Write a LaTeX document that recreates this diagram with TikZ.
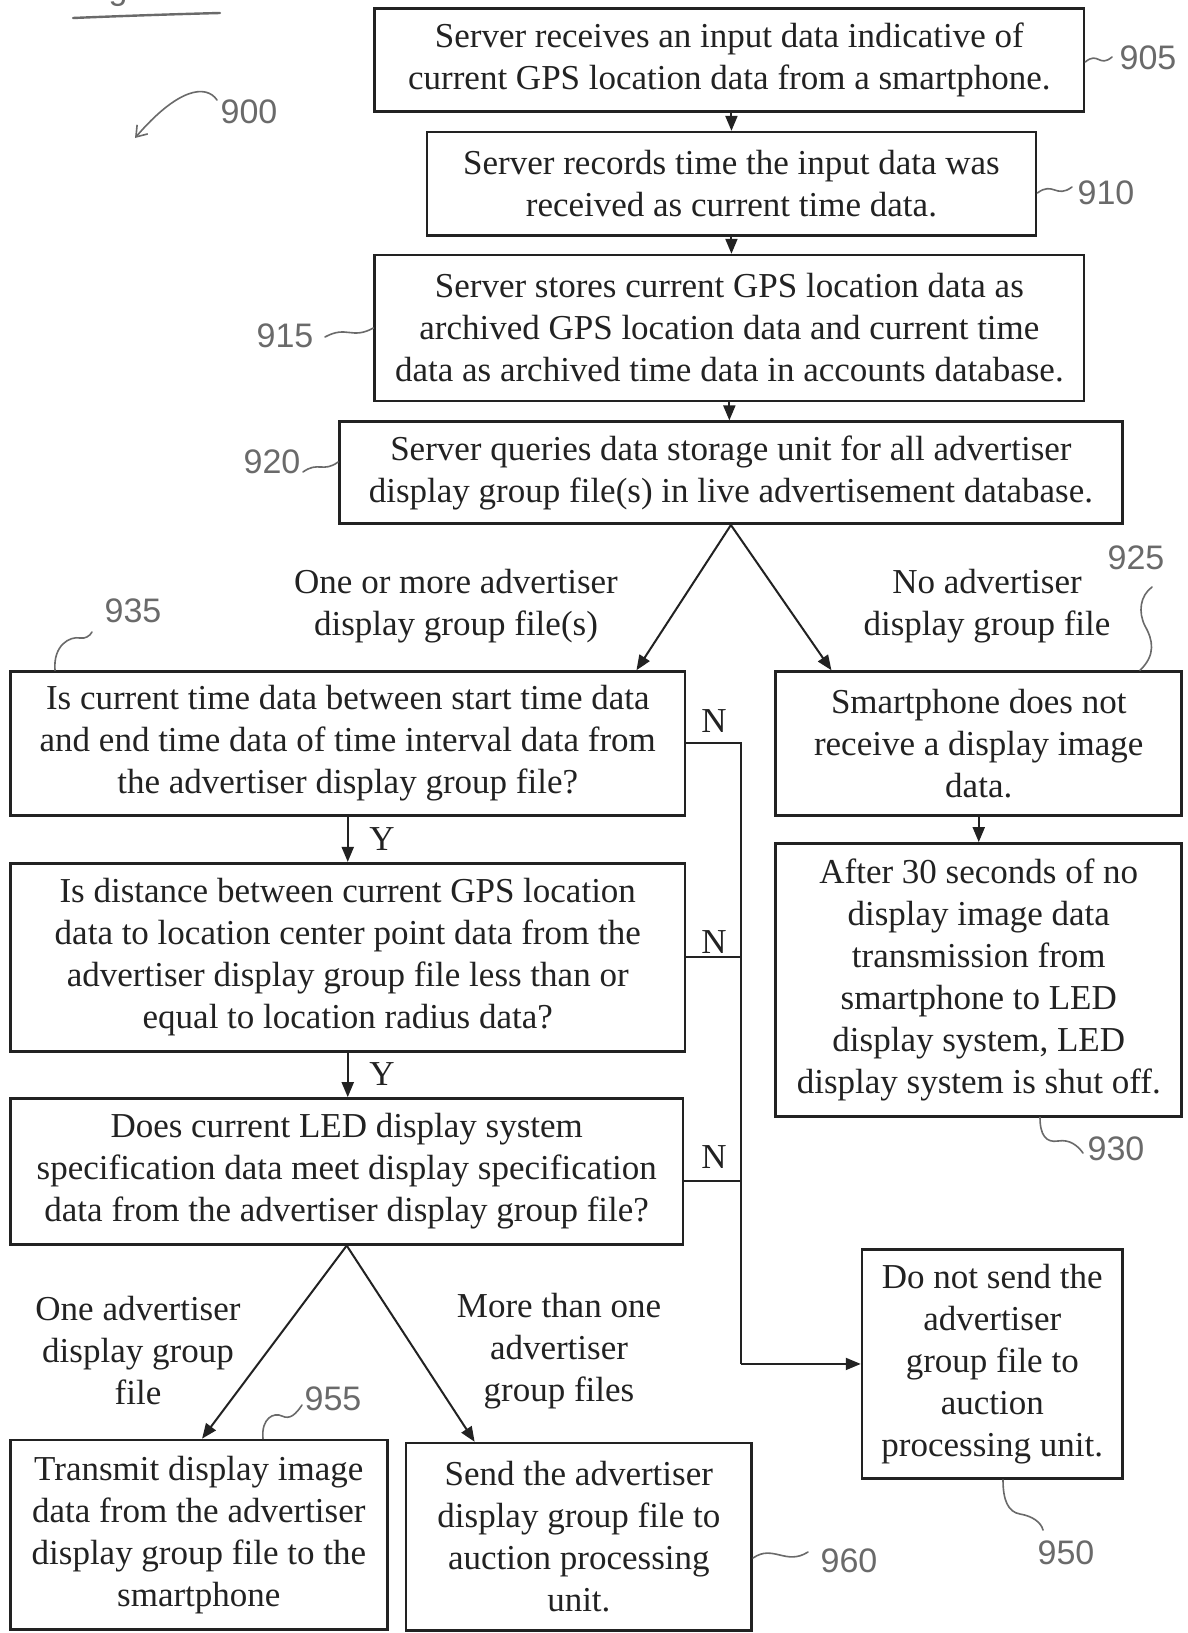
\documentclass[tikz,border=0pt]{standalone}
\usepackage{fontspec}
\setmainfont{Liberation Serif}
\newfontfamily\handfont{Liberation Sans}
\usetikzlibrary{arrows.meta,calc}
\definecolor{ink}{HTML}{222222}
\definecolor{pencil}{HTML}{6A6A6A}
\begin{document}
\begin{tikzpicture}[x=0.5pt,y=-0.5pt,
  box/.style={draw=ink, line width=1.3pt, inner sep=0pt, align=center, text=ink, font=\fontsize{17.5}{21}\selectfont},
  arr/.style={draw=ink, line width=1pt, -{Triangle[length=7.5pt,width=6pt]}},
  conn/.style={draw=ink, line width=1pt},
  lbl/.style={text=ink, align=center, font=\fontsize{17.5}{21}\selectfont, inner sep=0pt},
  refnum/.style={text=pencil, font=\handfont\fontsize{17}{17}\selectfont, inner sep=2pt},
  lead/.style={draw=pencil, line width=0.8pt, line cap=round},
]
\fill[white] (0,0) rectangle (1188,1633);
\useasboundingbox (0,0) rectangle (1188,1633);

% figure title (cut off at top)
\node[refnum, anchor=base west, inner sep=0pt] (fig) at (80,-1) {Figure 9};
\draw[lead, line width=1.2pt] (73,18) .. controls (120,16) and (180,14) .. (220,13);

% boxes
\node[box, minimum width=354.6pt, minimum height=51.6pt] (b905) at (729.35,59.85)
  {Server receives an input data indicative of\\current GPS location data from a smartphone.};
\node[box, minimum width=304.6pt, minimum height=51.6pt] (b910) at (731.45,183.75)
  {Server records time the input data was\\received as current time data.};
\node[box, minimum width=354.6pt, minimum height=72.9pt] (b915) at (729.35,328)
  {Server stores current GPS location data as\\archived GPS location data and current time\\data as archived time data in accounts database.};
\node[box, minimum width=391.5pt, minimum height=51pt] (b920) at (730.9,472.7)
  {Server queries data storage unit for all advertiser\\display group file(s) in live advertisement database.};
\node[box, minimum width=337.4pt, minimum height=71.9pt] (b935) at (347.75,743.45)
  {Is current time data between start time data\\and end time data of time interval data from\\the advertiser display group file?};
\node[box, minimum width=203pt, minimum height=71.9pt] (b925) at (978.75,743.45)
  {Smartphone does not\\receive a display image\\data.};
\node[box, minimum width=203pt, minimum height=136.4pt] (b930) at (978.75,979.8)
  {After 30 seconds of no\\display image data\\transmission from\\smartphone to LED\\display system, LED\\display system is shut off.};
\node[box, minimum width=337.4pt, minimum height=94.2pt] (b940) at (347.75,957.4)
  {Is distance between current GPS location\\data to location center point data from the\\advertiser display group file less than or\\equal to location radius data?};
\node[box, minimum width=336.3pt, minimum height=72.9pt] (b945) at (346.7,1171.35)
  {Does current LED display system\\specification data meet display specification\\data from the advertiser display group file?};
\node[box, minimum width=130.2pt, minimum height=114.6pt] (b950) at (992.25,1363.95)
  {Do not send the\\advertiser\\group file to\\auction\\processing unit.};
\node[box, minimum width=188.5pt, minimum height=94.8pt] (b955) at (198.85,1534.75)
  {Transmit display image\\data from the advertiser\\display group file to the\\smartphone};
\node[box, minimum width=172.9pt, minimum height=93.7pt] (b960) at (578.85,1536.8)
  {Send the advertiser\\display group file to\\auction processing\\unit.};

% edge labels
\node[lbl] (e1) at (456,606) {One or more advertiser\\display group file(s)};
\node[lbl] (e2) at (987,606) {No advertiser\\display group file};
\node[lbl] (e3) at (138,1351) {One advertiser\\display group\\file};
\node[lbl] (e4) at (559,1351) {More than one\\advertiser\\group files};
\node[lbl] (y1) at (382,839) {Y};
\node[lbl] (y2) at (382,1074.5) {Y};
\node[lbl] (n1) at (714,721) {N};
\node[lbl] (n2) at (714,942) {N};
\node[lbl] (n3) at (714,1157) {N};

% connectors
\draw[arr] (b905.south -| b910.north) -- (b910.north);
\draw[arr] (b910.south) -- (b910.south |- b915.north);
\draw[arr] (b915.south) -- (b915.south |- b920.north);
\draw[arr] (b920.south) -- ($(b935.north east)+(-50,0)$);
\draw[arr] (b920.south) -- ($(b925.north west)+(57,0)$);
\draw[arr] (b935.south) -- (b935.south |- b940.north);
\draw[arr] (b940.south) -- (b940.south |- b945.north);
\draw[arr] (b925.south) -- (b930.north);
\coordinate (vx) at (741,0);
\draw[conn] (b935.east) -- (b935.east -| vx) -- (b950.west -| vx);
\draw[arr] (b950.west -| vx) -- (b950.west);
\draw[conn] (b940.east) -- (b940.east -| vx);
\draw[conn] ($(b945.east)+(0,10)$) -- ($(b945.east -| vx)+(0,10)$);
\draw[arr] (b945.south) -- ($(b955.north west)+(193,0)$);
\draw[arr] (b945.south) -- ($(b960.north west)+(70,0)$);

% reference numerals
\node[refnum] (l900) at (249,112) {900};
\node[refnum] (l905) at (1148,58) {905};
\node[refnum] (l910) at (1106,193) {910};
\node[refnum] (l915) at (285,336) {915};
\node[refnum] (l920) at (272,462) {920};
\node[refnum] (l925) at (1136,558) {925};
\node[refnum] (l935) at (133,611) {935};
\node[refnum] (l930) at (1116,1149) {930};
\node[refnum] (l955) at (333,1399) {955};
\node[refnum] (l960) at (849,1561) {960};
\node[refnum] (l950) at (1066,1553) {950};

% leaders
\coordinate (a900) at (135,138);
\draw[lead, -{Straight Barb[length=5pt,width=7pt]}] (217,100) .. controls (206,84) and (178,88) .. (a900);
\draw[lead] (b905.east |- 0,62) .. controls +(13,-11) and +(-13,11) .. (1112,57);
\draw[lead] (b910.east |- 0,193) .. controls +(16,-12) and +(-16,12) .. (1072,187);
\draw[lead] (325,337) .. controls +(22,-12) and +(-22,12) .. (b915.west |- 0,328);
\draw[lead] (303,472) .. controls +(15,-11) and +(-15,11) .. (b920.west |- 0,462);
\draw[lead] (b960.east |- 0,1558) .. controls +(20,-14) and +(-22,14) .. (808,1552);
\draw[lead] (b955.north west -| 263,0) .. controls (261,1418) and (274,1412) .. (282,1416)
  .. controls (290,1420) and (296,1414) .. (302,1405);
\draw[lead] (b935.north west -| 55,0) .. controls (53,645) and (70,636) .. (80,638)
  .. controls (85,639) and (90,636) .. (92,632);
\draw[lead] (1152,587) .. controls (1140,596) and (1138,612) .. (1145,626)
  .. controls (1153,640) and (1156,655) .. (b925.north -| 1140,0);
\draw[lead] (b930.south -| 1040,0) .. controls (1040,1135) and (1046,1143) .. (1058,1141)
  .. controls (1070,1139) and (1078,1146) .. (1083,1153);
\draw[lead] (b950.south -| 1003,0) .. controls (1003,1500) and (1008,1512) .. (1020,1514)
  .. controls (1032,1516) and (1041,1522) .. (1043,1530);
\end{tikzpicture}
\end{document}
